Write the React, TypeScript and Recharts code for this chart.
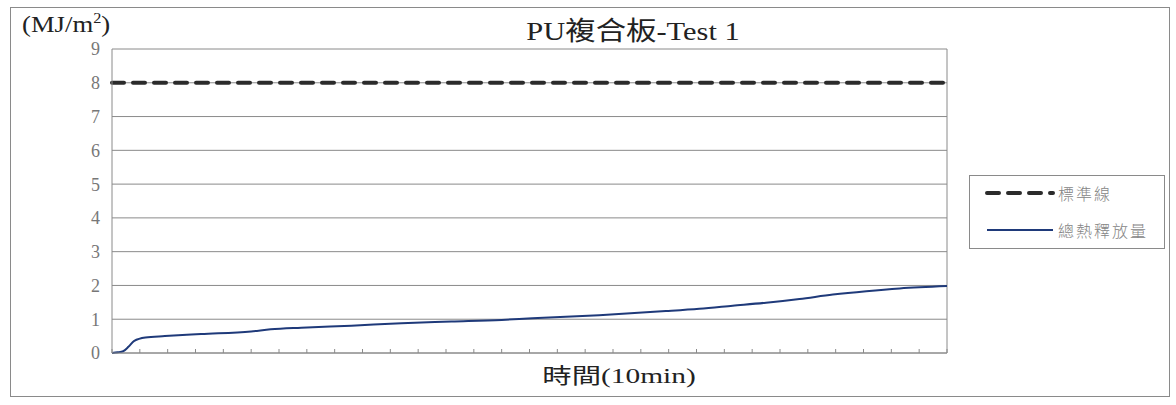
import React from 'react';
import { LineChart, Line, XAxis, YAxis, CartesianGrid, ReferenceLine, Legend } from 'recharts';

// time in 10-min units
const TIME = [0, 0.2, 0.4, 0.6, 0.8, 1.2, 1.9, 3.2, 5, 5.7, 6.8, 8.6, 10.4, 12.2, 14, 15.1, 17.5, 19.9, 21.1, 22.3, 23.5, 24.7, 25.9, 27.1, 28.3, 30];
const TOTAL_HEAT = [0, 0.02, 0.05, 0.19, 0.36, 0.46, 0.5, 0.56, 0.64, 0.7, 0.75, 0.81, 0.88, 0.93, 0.98, 1.03, 1.12, 1.24, 1.31, 1.4, 1.49, 1.6, 1.73, 1.83, 1.91, 1.98];

const STANDARD_TIME = [0, 30];
const STANDARD = [8, 8];

const Y_TICKS = [0, 1, 2, 3, 4, 5, 6, 7, 8, 9];
const X_TICKS = [0, 1, 2, 3, 4, 5, 6, 7, 8, 9, 10, 11, 12, 13, 14, 15, 16, 17, 18, 19, 20, 21, 22, 23, 24, 25, 26, 27, 28, 29, 30];

const TITLE = 'PU複合板-Test 1';
const X_LABEL = '時間(10min)';
const STANDARD_NAME = '標準線';
const HEAT_NAME = '總熱釋放量';

const SERIF = "'Liberation Serif', 'Noto Sans CJK TC', serif";
const GRID = '#8a8a8a';

const heatData = TIME.map((t, i) => ({ t, v: TOTAL_HEAT[i] }));
const standardData = STANDARD_TIME.map((t, i) => ({ t, v: STANDARD[i] }));

const UpTick = (props: any) => {
    const { x, y } = props;
    return <line x1={x} x2={x} y1={y} y2={y - 4} stroke={GRID} strokeWidth={1} />;
};

const LegendBox = ({ payload }: any) => (
    <div style={{ position: 'relative', width: 196, height: 74, border: `1px solid ${GRID}`, boxSizing: 'border-box', background: '#fff' }}>
        {(payload || []).map((entry: any, i: number) => {
            const dash = entry.payload?.strokeDasharray;
            const w = entry.payload?.strokeWidth || 2;
            const cap = entry.payload?.strokeLinecap || 'butt';
            const cy = i === 0 ? 17 : 54;
            return (
                <div key={`leg-${i}`} style={{ position: 'absolute', left: 0, top: cy - 10, height: 20, width: 196 }}>
                    <svg width={80} height={20} style={{ position: 'absolute', left: 15, top: 0 }}>
                        <line x1={2} x2={68} y1={10} y2={10} stroke={entry.color} strokeWidth={w} strokeDasharray={dash} strokeLinecap={cap} />
                    </svg>
                    <span style={{ position: 'absolute', left: 88, top: 0, lineHeight: '20px', fontSize: 16, letterSpacing: 2, color: '#858585', fontFamily: "'Noto Sans CJK TC', sans-serif", fontWeight: 300, whiteSpace: 'nowrap' }}>
                        {entry.value}
                    </span>
                </div>
            );
        })}
    </div>
);

export default function App() {
    return (
        <div style={{ position: 'absolute', left: 10, top: 7, width: 1160, height: 390, border: `1px solid ${GRID}`, boxSizing: 'border-box', background: '#fff', fontFamily: SERIF }}>
            <LineChart width={1158} height={388} margin={{ top: 41, right: 222, bottom: 0, left: 0 }}>
                <CartesianGrid vertical={false} stroke={GRID} />
                <XAxis
                    type="number"
                    dataKey="t"
                    domain={[0, 30]}
                    ticks={X_TICKS}
                    interval={0}
                    height={43}
                    stroke={GRID}
                    tickLine={false}
                    tickSize={0}
                    tickMargin={0}
                    tick={<UpTick />}
                    allowDuplicatedCategory={false}
                />
                <YAxis
                    type="number"
                    domain={[0, 9]}
                    ticks={Y_TICKS}
                    interval={0}
                    width={101}
                    stroke={GRID}
                    tickLine={false}
                    tickSize={0}
                    tickMargin={12}
                    tick={{ fill: '#777', fontSize: 18, fontFamily: SERIF }}
                />
                <ReferenceLine x={30} stroke={GRID} />
                <Line
                    data={standardData}
                    dataKey="v"
                    name={STANDARD_NAME}
                    type="linear"
                    stroke="#2b2b2b"
                    strokeWidth={4}
                    strokeDasharray="12 9"
                    strokeLinecap="round"
                    dot={false}
                    isAnimationActive={false}
                />
                <Line
                    data={heatData}
                    dataKey="v"
                    name={HEAT_NAME}
                    type="monotone"
                    stroke="#1f3a7a"
                    strokeWidth={2}
                    dot={false}
                    isAnimationActive={false}
                />
                <Legend
                    layout="horizontal"
                    align="center"
                    verticalAlign="middle"
                    content={<LegendBox />}
                    wrapperStyle={{ left: 958, top: 167, width: 196, height: 74 }}
                />
            </LineChart>
            <div style={{ position: 'absolute', left: 422, top: 11, width: 400, textAlign: 'center', fontSize: 26, lineHeight: '26px', color: '#222', transform: 'scaleX(1.17)', transformOrigin: '200px 0' }}>
                {TITLE}
            </div>
            <div style={{ position: 'absolute', left: 11, top: 5, fontSize: 23, lineHeight: '23px', color: '#222', whiteSpace: 'nowrap', transform: 'scaleX(1.16)', transformOrigin: '0 0' }}>
                (MJ/m<span style={{ fontSize: 14, position: 'relative', top: -9 }}>2</span>)
            </div>
            <div style={{ position: 'absolute', left: 408, top: 358, width: 400, textAlign: 'center', fontSize: 21, lineHeight: '21px', color: '#222', transform: 'scaleX(1.4)', transformOrigin: '200px 0' }}>
                {X_LABEL}
            </div>
        </div>
    );
}
